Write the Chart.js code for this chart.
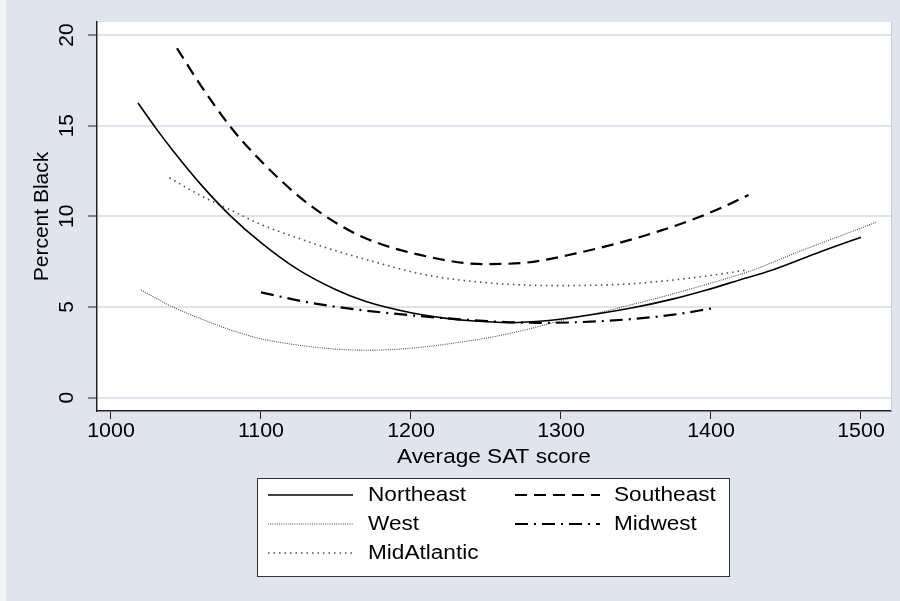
<!DOCTYPE html>
<html><head><meta charset="utf-8">
<script src="https://cdn.jsdelivr.net/npm/chart.js@4"></script>
<style>html,body{margin:0;padding:0;background:#fff;overflow:hidden}#wrap{width:900px;height:601px;position:relative}</style>
</head><body><div id="wrap"><canvas id="c"></canvas></div>
<script>
// ---- data ----
const seriesNames = ['Northeast', 'Southeast', 'West', 'Midwest', 'MidAtlantic'];

const northeastX = [1018,1030,1042,1060,1080,1100,1124,1150,1170,1200,1221,1240,1266,1290,1310,1346,1375,1397,1419,1441,1473,1500];
const northeastY = [16.25,14.85,13.55,11.75,10.0,8.55,7.1,5.95,5.3,4.68,4.4,4.24,4.14,4.24,4.45,4.93,5.45,5.94,6.49,7.04,8.05,8.85];

const southeastX = [1044,1060,1080,1100,1126,1146,1170,1210,1248,1277,1310,1346,1381,1405,1425];
const southeastY = [19.27,17.2,14.9,13.05,11.05,9.85,8.78,7.8,7.37,7.45,7.96,8.7,9.62,10.4,11.18];

const westX = [1020,1040,1060,1080,1100,1124,1150,1170,1190,1210,1230,1255,1280,1300,1325,1346,1370,1397,1426,1460,1485,1510];
const westY = [5.94,5.05,4.35,3.73,3.25,2.91,2.68,2.62,2.67,2.81,3.03,3.36,3.82,4.25,4.68,5.11,5.62,6.25,6.98,8.1,8.88,9.67];

const midwestX = [1100,1130,1166,1210,1240,1266,1290,1310,1346,1375,1401];
const midwestY = [5.81,5.28,4.84,4.47,4.28,4.16,4.13,4.16,4.33,4.58,4.93];

const midAtlanticX = [1039,1059,1081,1100,1124,1150,1170,1210,1255,1299,1344,1375,1397,1424];
const midAtlanticY = [12.13,11.18,10.3,9.55,8.82,8.1,7.62,6.77,6.31,6.18,6.27,6.49,6.71,7.05];

const xTickValues = [1000, 1100, 1200, 1300, 1400, 1500];
const yTickValues = [0, 5, 10, 15, 20];
const xAxisTitle = 'Average SAT score';
const yAxisTitle = 'Percent Black';

// ---- chart ----
const FONT = '"Liberation Sans", Arial, Helvetica, sans-serif';
Chart.defaults.font.family = FONT;
Chart.defaults.color = '#000';

function pts(xs, ys) { return xs.map((x, i) => ({ x: x, y: ys[i] })); }

const styles = [
  { borderColor: '#000', borderWidth: 1.6, borderDash: [] },
  { borderColor: '#000', borderWidth: 2.2, borderDash: [12, 7] },
  { borderColor: '#4a4a4a', borderWidth: 1.1, borderDash: [1, 1.2] },
  { borderColor: '#000', borderWidth: 2.2, borderDash: [13, 6, 2, 6] },
  { borderColor: '#4d4d4d', borderWidth: 1.6, borderDash: [1.5, 4] }
];
const seriesData = [
  pts(northeastX, northeastY),
  pts(southeastX, southeastY),
  pts(westX, westY),
  pts(midwestX, midwestY),
  pts(midAtlanticX, midAtlanticY)
];

const datasets = seriesNames.map((name, i) => Object.assign({
  label: name,
  data: seriesData[i],
  fill: false,
  pointRadius: 0,
  cubicInterpolationMode: 'monotone'
}, styles[i]));

function stretchText(ctx, text, x, y, sx, align) {
  ctx.save();
  ctx.translate(x, y);
  ctx.scale(sx, 1);
  ctx.textAlign = align;
  ctx.textBaseline = 'middle';
  ctx.fillText(text, 0, 0);
  ctx.restore();
}

const bgPlugin = {
  id: 'bg',
  beforeDraw(chart) {
    const ctx = chart.ctx, a = chart.chartArea;
    ctx.save();
    ctx.fillStyle = '#f3f5f9';
    ctx.fillRect(0, 0, chart.width, chart.height);
    ctx.fillStyle = '#dfe4ef';
    ctx.fillRect(6, 0, chart.width - 6, chart.height);
    ctx.fillStyle = '#ffffff';
    ctx.fillRect(a.left, a.top, a.right - a.left, a.bottom - a.top);
    ctx.restore();
  }
};

const textPlugin = {
  id: 'texts',
  afterDraw(chart) {
    const ctx = chart.ctx, ys = chart.scales.y, xs = chart.scales.x, a = chart.chartArea;
    ctx.save();
    ctx.fillStyle = '#000';
    // y tick labels (rotated)
    ctx.font = '21px ' + FONT;
    ctx.textAlign = 'center';
    ctx.textBaseline = 'middle';
    ys.ticks.forEach(t => {
      const py = ys.getPixelForValue(t.value);
      ctx.save();
      ctx.translate(67, py);
      ctx.rotate(-Math.PI / 2);
      ctx.fillText(String(t.value), 0, 0);
      ctx.restore();
    });
    // x tick labels
    ctx.font = '20px ' + FONT;
    xs.ticks.forEach(t => {
      stretchText(ctx, String(t.value), xs.getPixelForValue(t.value), 431, 1.07, 'center');
    });
    // axis titles
    stretchText(ctx, xAxisTitle, (a.left + a.right) / 2, 457, 1.13, 'center');
    ctx.save();
    ctx.font = '21px ' + FONT;
    ctx.translate(42, (a.top + a.bottom) / 2);
    ctx.rotate(-Math.PI / 2);
    ctx.textAlign = 'center';
    ctx.fillText(yAxisTitle, 0, 0);
    ctx.restore();

    // legend box
    ctx.font = '20px ' + FONT;
    const bx = 257.5, by = 478.5, bw = 472, bh = 98;
    ctx.fillStyle = '#fff';
    ctx.fillRect(bx, by, bw, bh);
    ctx.strokeStyle = '#333';
    ctx.lineWidth = 1;
    ctx.setLineDash([]);
    ctx.strokeRect(bx, by, bw, bh);
    const colLine = [[268, 353], [515, 600]];
    const colText = [368, 614];
    const rowY = [495, 524, 553];
    chart.data.datasets.forEach((ds, i) => {
      const col = i % 2, row = Math.floor(i / 2);
      const y = rowY[row];
      ctx.save();
      ctx.strokeStyle = ds.borderColor;
      ctx.lineWidth = ds.borderWidth;
      ctx.setLineDash(ds.borderDash || []);
      ctx.beginPath();
      ctx.moveTo(colLine[col][0], y);
      ctx.lineTo(colLine[col][1], y);
      ctx.stroke();
      ctx.restore();
      ctx.fillStyle = '#000';
      stretchText(ctx, ds.label, colText[col], y, 1.13, 'left');
    });
    // faint right edge of plot region
    ctx.strokeStyle = '#c8ccd4';
    ctx.lineWidth = 1;
    ctx.beginPath();
    ctx.moveTo(a.right + 0.5, a.top);
    ctx.lineTo(a.right + 0.5, a.bottom);
    ctx.stroke();
    ctx.restore();
  }
};

new Chart(document.getElementById('c'), {
  type: 'line',
  data: { datasets: datasets },
  plugins: [bgPlugin, textPlugin],
  options: {
    responsive: true,
    maintainAspectRatio: false,
    animation: false,
    devicePixelRatio: 1,
    layout: { padding: { top: 22, right: 9, left: 0, bottom: 0 } },
    plugins: { legend: { display: false }, tooltip: { enabled: false } },
    scales: {
      x: {
        type: 'linear',
        min: 990.67,
        max: 1520,
        afterBuildTicks: s => { s.ticks = xTickValues.map(v => ({ value: v })); },
        afterFit: s => { s.height = 190; },
        grid: { drawOnChartArea: false, drawTicks: true, tickLength: 8, tickColor: '#222', tickWidth: 1 },
        border: { display: true, color: '#222', width: 1.5 },
        ticks: { display: false }
      },
      y: {
        type: 'linear',
        min: -0.733,
        max: 20.717,
        afterBuildTicks: s => { s.ticks = yTickValues.map(v => ({ value: v })); },
        afterFit: s => { s.width = 97; },
        grid: { color: '#dde3ef', lineWidth: 2, drawTicks: true, tickLength: 9, tickColor: '#222', tickWidth: 1 },
        border: { display: true, color: '#222', width: 1.5 },
        ticks: { display: false }
      }
    }
  }
});
</script>
</body></html>
